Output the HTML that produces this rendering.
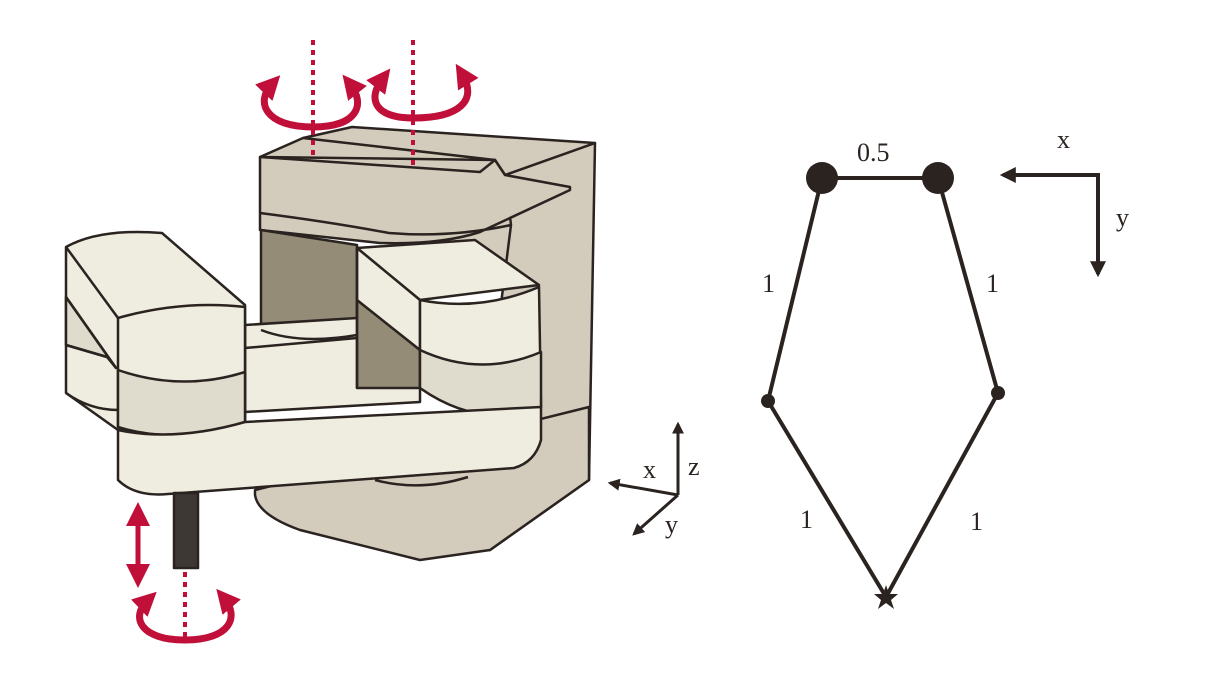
<!DOCTYPE html>
<html><head><meta charset="utf-8"><style>
html,body{margin:0;padding:0;background:#fff;}
svg{display:block;}
text{font-family:"Liberation Serif",serif;fill:#2a2320;}
</style></head><body>
<svg width="1211" height="678" viewBox="0 0 1211 678">
<defs>
<marker id="ah" viewBox="0 0 10 10" refX="8" refY="5" markerWidth="4" markerHeight="4" orient="auto"><path d="M0,0L10,5L0,10z" fill="#2a2320"/></marker>
<marker id="rh" viewBox="0 0 10 10" refX="5" refY="5" markerUnits="userSpaceOnUse" markerWidth="24" markerHeight="24" orient="auto-start-reverse"><path d="M0,0L10,5L0,10z" fill="#c0103a"/></marker>
</defs>
<g stroke="#2a2320" stroke-width="2.5" stroke-linejoin="round">
 <!-- tower -->
 <path d="M260,157 L352,127 L595,143 L589,480 L490,550 L480,470 L511,265 L480,250 L380,243 L260,230 Z" fill="#d3ccbc" stroke="none"/>
 <path d="M505,175 L595,143 L589,480 L490,550 L480,470 L511,225 Z" fill="#d3ccbc"/>
 <path d="M260,157 L303,138 L352,127 L595,143 L505,175 L495,160 Z" fill="#d3ccbc"/>
 <path d="M303,138 L495,160" fill="none"/>
 <path d="M260,157 L260,230 L380,243 Q440,245 480,232 L570,190 L570,187 L505,175 L495,160 L480,172 Z" fill="#d3ccbc"/>
 <path d="M260,213 Q330,222 389,233 Q450,238 511,225" fill="none"/>
 <path d="M261,230 L357,245 L357,335 Q300,345 261,330 Z" fill="#958c78"/>
 <path d="M255,490 L589,407 L589,480 L490,550 L420,560 L300,530 Q258,515 255,495 Z" fill="#d3ccbc"/>
 <path d="M375,480 Q420,492 468,477" fill="#d3ccbc"/>
 <!-- beam between joints -->
 <path d="M245,325 L357,318 L420,320 L420,402 L245,412 Z" fill="#efece0"/>
 <path d="M245,348 L357,338" fill="none"/>
 <path d="M261,330 Q300,345 357,335" fill="none"/>
 <!-- right joint block -->
 <path d="M357,300 L420,350 L420,388 L357,388 Z" fill="#958c78"/>
 <path d="M357,248 L475,240 L539,285 L420,300 Z" fill="#efece0"/>
 <path d="M357,248 L420,300 L420,350 L357,300 Z" fill="#efece0"/>
 <path d="M357,248 L357,388" fill="none"/>
 <path d="M420,300 Q480,312 539,287 L541,407 Q480,430 420,388 Z" fill="#efece0"/>
 <path d="M420,350 Q480,378 541,352 L541,407 Q480,430 420,388 Z" fill="#e0dccd"/>
 <!-- left block -->
 <path d="M66,247 Q100,228 162,233 L245,305 L245,420 L118,430 L66,393 Z" fill="#efece0"/>
 <path d="M66,297 L116,368 L107,357 L66,345 Z" fill="#e0dccd"/>
 <path d="M66,247 L118,318 M66,297 L116,368 M66,345 L107,357 M66,393 Q90,410 118,410" fill="none"/>
 <!-- front joint -->
 <path d="M118,318 Q182,300 245,307 L245,422 Q180,445 118,427 Z" fill="#efece0"/>
 <path d="M118,370 Q182,392 245,372 L245,422 Q175,445 118,427 Z" fill="#e0dccd"/>
 <!-- front arm -->
 <path d="M118,430 Q175,442 245,422 L541,407 L541,440 Q535,462 514,468 L168,494 Q135,497 118,480 Z" fill="#efece0"/>
 <rect x="174" y="493" width="24" height="75" fill="#3d3833"/>
</g>
<g stroke="#c0103a" fill="none">
 <line x1="313" y1="40" x2="313" y2="158" stroke-width="4" stroke-dasharray="5,5"/>
 <line x1="413" y1="40" x2="413" y2="165" stroke-width="4" stroke-dasharray="5,5"/>
 <line x1="185" y1="572" x2="185" y2="640" stroke-width="4" stroke-dasharray="5,5"/>
 <path d="M272,84 C255,102 265,127 313,127 C358,127 366,104 350,84" stroke-width="7" marker-start="url(#rh)" marker-end="url(#rh)"/>
 <path d="M383,78 C366,100 376,118 413,118 C460,118 478,100 462,74" stroke-width="7" marker-start="url(#rh)" marker-end="url(#rh)"/>
 <path d="M148,600 C130,617 140,640 185,640 C230,640 240,617 224,598" stroke-width="7" marker-start="url(#rh)" marker-end="url(#rh)"/>
 <line x1="138" y1="514" x2="138" y2="576" stroke-width="5" marker-start="url(#rh)" marker-end="url(#rh)"/>
</g>
<g stroke="#2a2320" stroke-width="3">
 <line x1="678" y1="495" x2="678" y2="424" marker-end="url(#ah)"/>
 <line x1="678" y1="495" x2="610" y2="483" marker-end="url(#ah)"/>
 <line x1="678" y1="495" x2="634" y2="534" marker-end="url(#ah)"/>
</g>
<text x="643" y="478" font-size="26">x</text>
<text x="688" y="475" font-size="26">z</text>
<text x="665" y="533" font-size="26">y</text>
<g stroke="#2a2320" stroke-width="4" fill="none">
 <line x1="822" y1="178" x2="938" y2="178"/>
 <line x1="822" y1="178" x2="768" y2="401"/>
 <line x1="938" y1="178" x2="998" y2="393"/>
 <line x1="768" y1="401" x2="886" y2="597"/>
 <line x1="998" y1="393" x2="886" y2="597"/>
</g>
<g fill="#2a2320">
 <circle cx="822" cy="178" r="16"/><circle cx="938" cy="178" r="16"/>
 <circle cx="768" cy="401" r="7"/><circle cx="998" cy="393" r="7"/>
 <path d="M886,585 L889,594 L898,594 L891,600 L894,609 L886,603 L878,609 L881,600 L874,594 L883,594 Z"/>
</g>
<text x="857" y="161" font-size="26">0.5</text>
<text x="762" y="292" font-size="26">1</text>
<text x="986" y="292" font-size="26">1</text>
<text x="800" y="528" font-size="26">1</text>
<text x="970" y="530" font-size="26">1</text>
<g stroke="#2a2320" stroke-width="4">
 <line x1="1098" y1="175" x2="1003" y2="175" marker-end="url(#ah)"/>
 <line x1="1098" y1="173" x2="1098" y2="274" marker-end="url(#ah)"/>
</g>
<text x="1057" y="148" font-size="26">x</text>
<text x="1116" y="226" font-size="26">y</text>
</svg>
</body></html>
